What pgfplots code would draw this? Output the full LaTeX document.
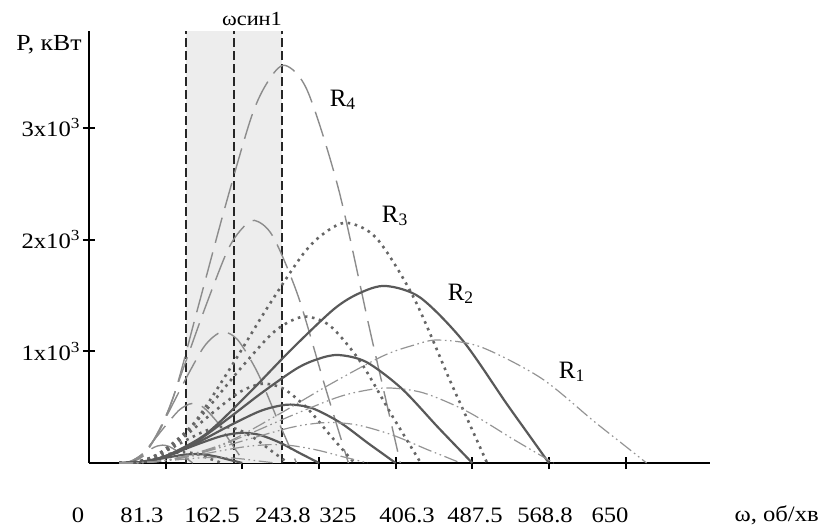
\documentclass[border=0pt]{standalone}
\usepackage{fontspec}
\setmainfont{Liberation Serif}
\usepackage{graphicx}
\usepackage{pgfplots}
\pgfplotsset{compat=1.18}

\newcommand{\lbl}{\fontsize{11}{13}\selectfont}
\newcommand{\sx}[1]{\scalebox{1.12}[1]{#1}}

\pgfplotsset{
  r1/.style={black!42, line width=0.6pt, smooth, tension=0.5,
    dash pattern=on 7pt off 1.8pt on 0.8pt off 1.8pt on 0.8pt off 1.8pt},
  r2/.style={black!65, line width=1.1pt, smooth, tension=0.5},
  r3/.style={black!60, line width=1.3pt, smooth, tension=0.5,
    dash pattern=on 1.3pt off 2.3pt},
  r4/.style={black!45, line width=0.7pt, smooth, tension=0.5,
    dash pattern=on 13pt off 5pt},
}

\begin{document}
\begin{tikzpicture}
\begin{axis}[
  scale only axis, width=310.5pt, height=216.2pt,
  xmin=0, xmax=658, ymin=0, ymax=3870,
  axis x line=bottom, axis y line=left,
  axis line style={line width=1.2pt, -},
  xtick={81.3,162.5,243.8,325,406.3,487.5,568.8},
  xticklabels={},
  ytick={1000,2000,3000},
  yticklabels={\sx{1x10\textsuperscript{3}},\sx{2x10\textsuperscript{3}},\sx{3x10\textsuperscript{3}}},
  tick align=center, major tick length=6pt,
  tick style={line width=1pt, black},
  yticklabel style={font=\lbl, inner sep=1pt},
  clip mode=individual,
]

% synchronous speed zone
\addplot[draw=none, fill=black!7] coordinates {(103,3870) (205,3870)} \closedcycle;
\addplot[black!85, line width=0.9pt, dash pattern=on 4.5pt off 2pt] coordinates {(103,0) (103,3870)};
\addplot[black!85, line width=0.9pt, dash pattern=on 4.5pt off 2pt] coordinates {(153.5,0) (153.5,3870)};
\addplot[black!85, line width=0.9pt, dash pattern=on 4.5pt off 2pt] coordinates {(205,0) (205,3870)};

%% R4
\addplot[r4] coordinates {(32,0) (46.9,18) (61.8,107) (88.6,570) (115.4,1388) (143.8,2278) (172.1,3097) (189.9,3418) (207.8,3560) (231.7,3329) (264.4,2456) (297.2,1210) (313.6,605) (330,0)};
\addplot[r4] coordinates {(32,0) (44.2,11) (56.3,65) (78.2,348) (100.0,847) (123.1,1390) (146.2,1890) (160.8,2085) (175.4,2172) (194.8,2031) (221.5,1499) (248.3,739) (261.6,369) (275,0)};
\addplot[r4] coordinates {(32,0) (41.4,6) (50.8,35) (67.7,188) (84.6,458) (102.5,752) (120.4,1022) (131.6,1128) (142.9,1175) (158.0,1099) (178.6,811) (199.3,400) (209.7,200) (220,0)};
\addplot[r4] coordinates {(32,0) (38.7,3) (45.3,16) (57.3,85) (69.2,208) (81.9,342) (94.5,465) (102.5,513) (110.5,534) (121.1,499) (135.7,369) (150.4,182) (157.7,91) (165,0)};
\addplot[r4] coordinates {(32,0) (35.9,1) (39.8,5) (46.8,26) (53.8,62) (61.3,102) (68.7,139) (73.3,154) (78.0,160) (84.3,150) (92.8,110) (101.4,54) (105.7,27) (110,0)};

%% R3
\addplot[r3] coordinates {(32,0) (51.5,11) (71,65) (110,344) (149,839) (188,1376) (227,1871) (250.4,2064) (273.8,2150) (305,2010) (344,1484) (383,731) (402.5,366) (422,0)};
\addplot[r3] coordinates {(32,0) (48.0,7) (64.0,39) (95.9,210) (127.9,511) (159.9,839) (191.9,1141) (211.0,1259) (230.2,1311) (255.8,1226) (287.8,905) (319.7,446) (335.7,223) (351.7,0)};
\addplot[r3] coordinates {(32,0) (44.5,4) (56.9,21) (81.9,114) (106.8,277) (131.7,454) (156.7,618) (171.6,682) (186.6,710) (206.5,664) (231.4,490) (256.4,241) (268.8,121) (281.3,0)};
\addplot[r3] coordinates {(32,0) (41.0,2) (49.9,10) (67.8,52) (85.7,126) (103.6,207) (121.5,281) (132.2,310) (143.0,323) (157.3,302) (175.2,223) (193.1,110) (202.1,55) (211,0)};
\addplot[r3] coordinates {(32,0) (37.4,1) (42.9,3) (53.7,16) (64.6,38) (75.5,62) (86.4,84) (92.9,93) (99.4,97) (108.1,91) (119.0,67) (129.8,33) (135.3,17) (140.7,0)};

%% R2
\addplot[r2] coordinates {(32,0) (54.8,8) (77.6,48) (123.1,254) (168.7,618) (214.2,1014) (259.8,1379) (287.1,1522) (314.4,1585) (350.9,1482) (396.4,1094) (442.0,539) (464.7,270) (487.5,0)};
\addplot[r2] coordinates {(32,0) (50.7,5) (69.4,29) (106.9,155) (144.3,377) (181.7,619) (219.2,841) (241.6,928) (264.1,967) (294.0,904) (331.4,667) (368.9,329) (387.6,164) (406.3,0)};
\addplot[r2] coordinates {(32,0) (46.7,3) (61.3,16) (90.6,84) (119.9,204) (149.2,335) (178.5,455) (196.1,502) (213.7,523) (237.1,489) (266.4,361) (295.7,178) (310.4,89) (325,0)};
\addplot[r2] coordinates {(32,0) (42.6,1) (53.2,8) (74.4,43) (95.5,105) (116.7,173) (137.9,235) (150.6,259) (163.3,270) (180.3,253) (201.4,186) (222.6,92) (233.2,46) (243.8,0)};
\addplot[r2] coordinates {(32,0) (38.5,0.4) (45.1,2) (58.1,13) (71.2,31) (84.2,51) (97.3,70) (105.1,77) (112.9,80) (123.4,75) (136.4,55) (149.5,27) (156.0,14) (162.5,0)};

%% R1
\addplot[r1] coordinates {(32,0) (60.0,6) (87.9,33) (143.8,176) (199.7,429) (255.6,705) (311.5,958) (345.0,1057) (370,1101) (415,1040) (479.2,760) (535.1,374) (563.1,187) (591,0)};
\addplot[r1] coordinates {(32,0) (55.0,3) (78.1,20) (124.1,108) (170.2,262) (216.2,430) (262.3,585) (289.9,645) (317.5,672) (354.4,628) (400.4,464) (446.5,229) (469.5,114) (492.5,0)};
\addplot[r1] coordinates {(32,0) (50.1,2) (68.2,11) (104.4,58) (140.6,142) (176.8,232) (213,316) (234.7,349) (256.4,363) (285.4,339) (321.6,251) (357.8,123) (375.9,62) (394,0)};
\addplot[r1] coordinates {(32,0) (45.2,1) (58.4,5) (84.7,26) (111.1,64) (137.4,106) (163.8,144) (179.6,158) (195.4,165) (216.5,154) (242.8,114) (269.2,56) (282.3,28) (295.5,0)};
\addplot[r1] coordinates {(32,0) (40.3,0.3) (48.5,2) (65,8) (81.5,20) (98,32) (114.5,44) (124.4,48) (134.3,50) (147.5,47) (164,35) (180.5,17) (188.8,9) (197,0)};

% labels
\node[font=\fontsize{12.5}{14}\selectfont] at (axis cs:269.2,3250) {R\textsubscript{4}};
\node[font=\fontsize{12.5}{14}\selectfont] at (axis cs:324.4,2211) {R\textsubscript{3}};
\node[font=\fontsize{12.5}{14}\selectfont] at (axis cs:394.3,1513) {R\textsubscript{2}};
\node[font=\fontsize{12.5}{14}\selectfont] at (axis cs:512,815) {R\textsubscript{1}};
\node[font=\fontsize{10}{12}\selectfont] at (axis cs:172.8,3975) {\sx{ωсин1}};
\node[font=\fontsize{11.5}{13}\selectfont] at (axis cs:-42.4,3742) {\sx{P, кВт}};

\node[font=\lbl] at (axis cs:-11.7,-465) {\sx{0}};
\node[font=\lbl] at (axis cs:56.2,-465) {\sx{81.3}};
\node[font=\lbl] at (axis cs:130.4,-465) {\sx{162.5}};
\node[font=\lbl] at (axis cs:205.6,-465) {\sx{243.8}};
\node[font=\lbl] at (axis cs:263.9,-465) {\sx{325}};
\node[font=\lbl] at (axis cs:337.1,-465) {\sx{406.3}};
\node[font=\lbl] at (axis cs:409.2,-465) {\sx{487.5}};
\node[font=\lbl] at (axis cs:483.4,-465) {\sx{568.8}};
\node[font=\lbl] at (axis cs:552.3,-465) {\sx{650}};
\node[font=\lbl, anchor=east] at (axis cs:781,-465) {\sx{ω, об/хв}};

% page extent
\path (axis cs:-94.3,-591) rectangle (axis cs:783.3,4145);
\end{axis}
\end{tikzpicture}
\end{document}
